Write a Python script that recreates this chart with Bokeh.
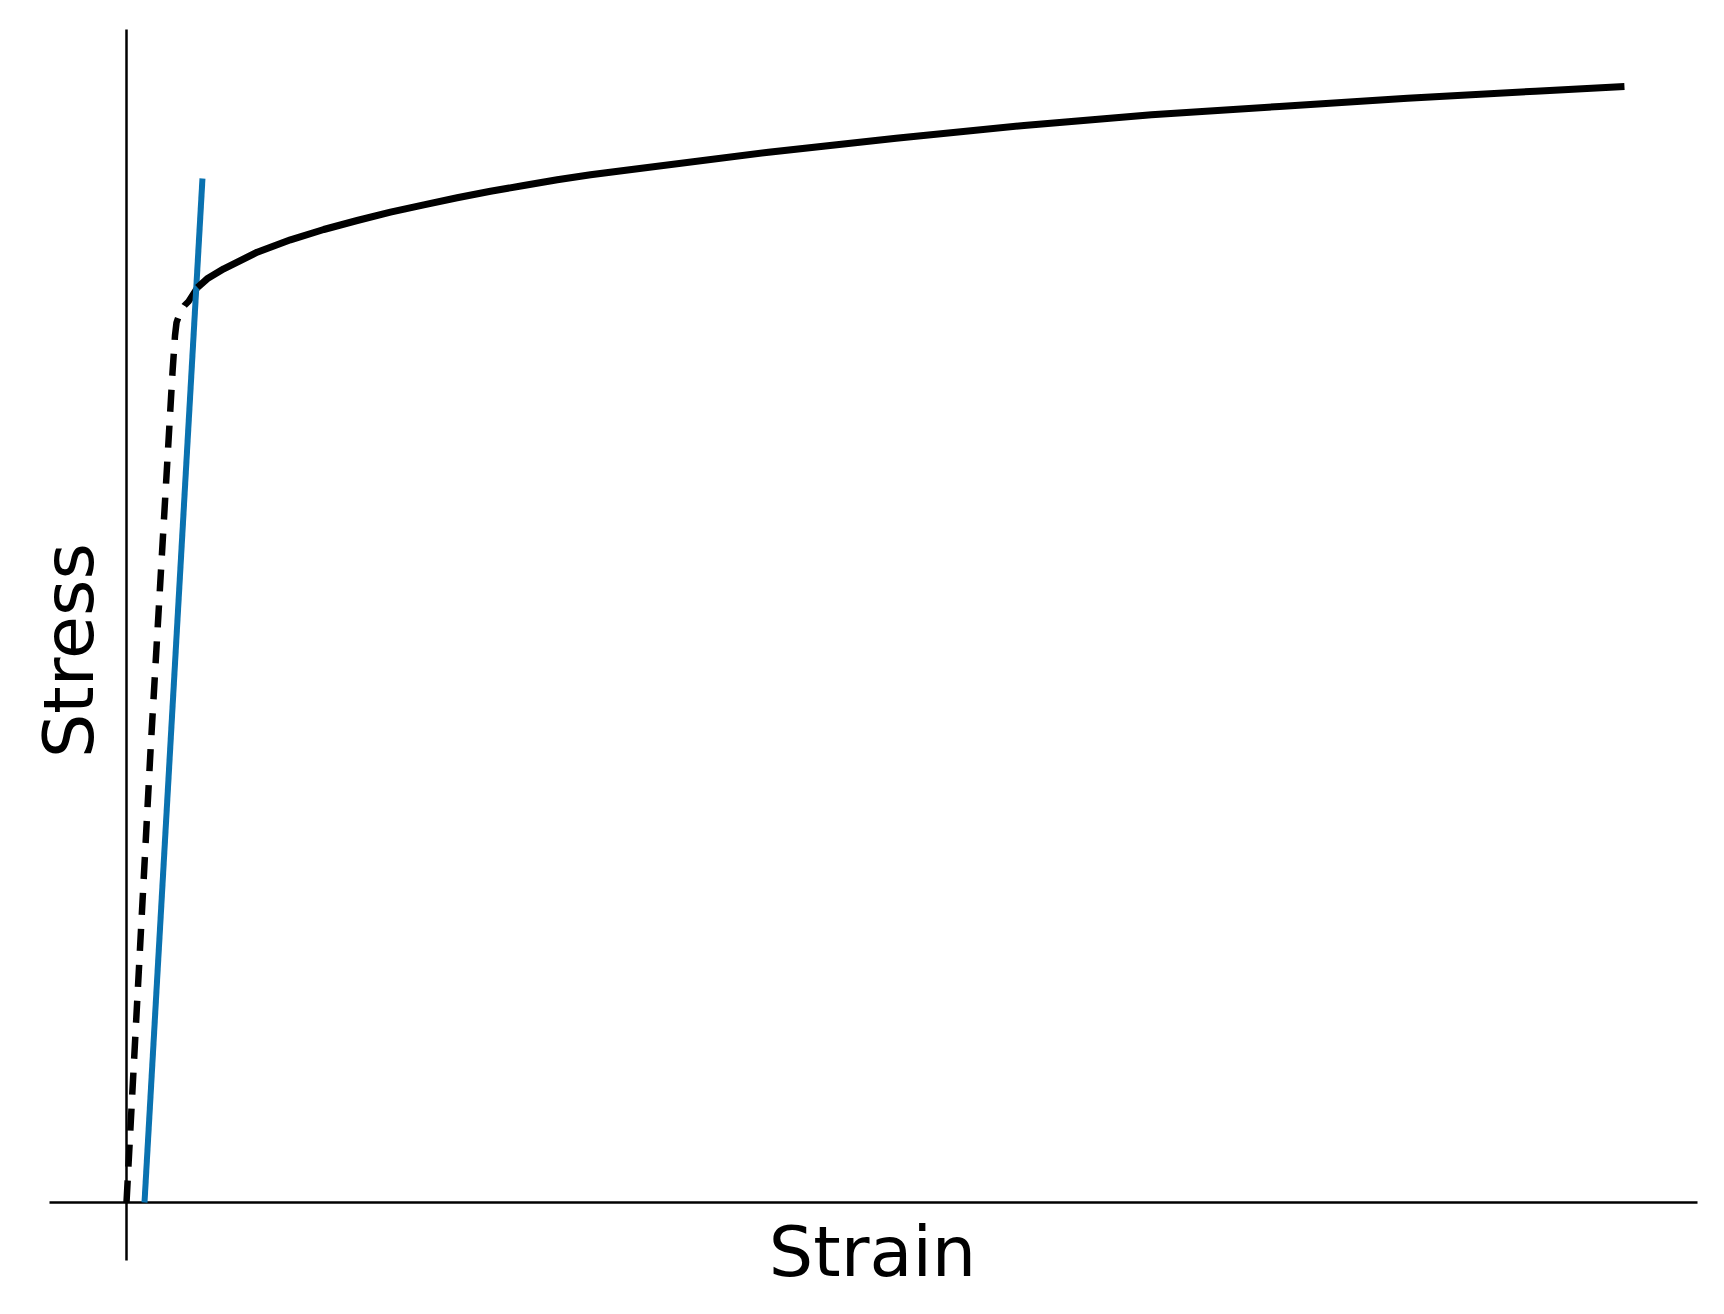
import math
from bokeh.plotting import figure
from bokeh.models import Range1d, Label
from bokeh.embed import file_html
from bokeh.resources import INLINE

# Elastic (dashed) portion: strain (%) and stress (MPa)
elastic_strain = [0.0, 0.267, 0.511, 0.539, 0.556, 0.600, 0.644, 0.689, 0.789]
elastic_stress = [0.0, 226.0, 415.0, 433.5, 440.0, 445.5, 448.5, 450.5, 457.5]

# Plastic (solid) portion
plastic_strain = [0.789, 0.896, 1.081, 1.452, 1.822, 2.192, 2.563, 2.933, 3.303, 3.674,
                  4.044, 4.414, 4.786, 5.156, 5.526, 7.133, 8.551, 9.972,
                  11.389, 12.811, 14.233, 15.656, 16.644]
plastic_stress = [457.5, 461.85, 466.85, 475.15, 481.35, 486.5, 491.0, 495.15, 498.85, 502.35,
                  505.65, 508.5, 511.35, 513.85, 516.0, 525.15, 532.15, 538.5,
                  543.85, 548.0, 552.15, 555.65, 558.0]

# 0.2 % offset line
offset_strain = [0.2, 0.844]
offset_stress = [0.0, 512.0]

# extents of the two axis lines (data units)
x_axis_extent = [-0.8556, 17.4556]
y_axis_extent = [-29.0, 586.5]

x_label = "Strain"
y_label = "Stress"

p = figure(width=1716, height=1300, output_backend="svg", toolbar_location=None,
           x_axis_location=None, y_axis_location=None,
           x_range=Range1d(-1.4, 17.6667), y_range=Range1d(-49.0, 601.0),
           min_border=0)
p.grid.visible = False
p.outline_line_color = None
p.background_fill_color = "white"
p.border_fill_color = "white"

# Axes lines through the origin
p.line(x_axis_extent, [0, 0], line_color="black", line_width=2.5)
p.line([0, 0], y_axis_extent, line_color="black", line_width=2.5)

p.line(elastic_strain, elastic_stress, line_color="black", line_width=6.5, line_dash="22 14")
p.line(offset_strain, offset_stress, line_color="#0a72b0", line_width=6)
p.line(plastic_strain, plastic_stress, line_color="black", line_width=7, line_join="round")

p.add_layout(Label(x=8.289, y=-24.5, text=x_label, text_align="center",
                   text_baseline="alphabetic", text_font="DejaVu Sans",
                   text_font_size="70px", text_color="black"))
p.add_layout(Label(x=-0.64, y=276, text=y_label, text_align="center",
                   text_baseline="alphabetic", angle=math.pi / 2,
                   text_font="DejaVu Sans", text_font_size="70px", text_color="black"))

open("out.html", "w").write(file_html(p, INLINE))
